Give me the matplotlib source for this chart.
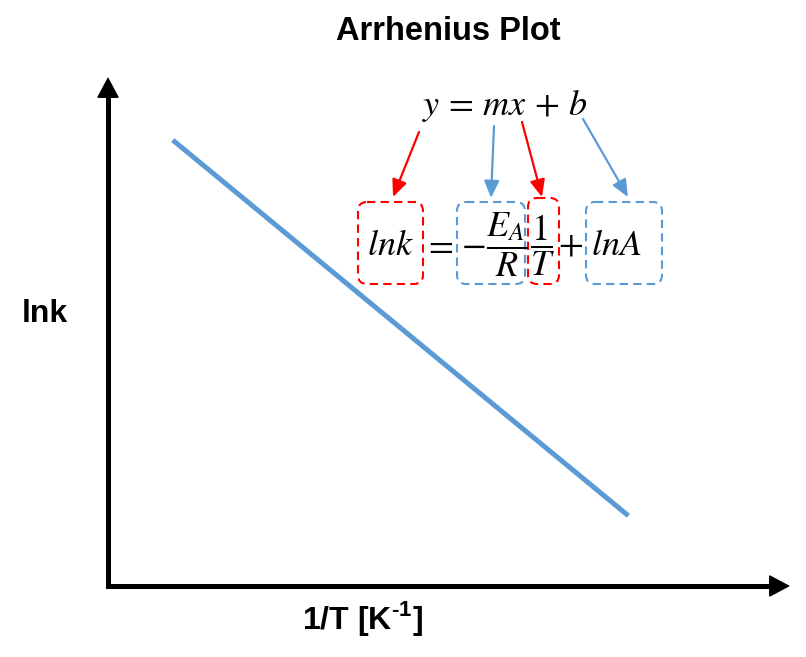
import numpy as np
import matplotlib
matplotlib.use("Agg")
from matplotlib import pyplot as plt
from matplotlib.patches import FancyBboxPatch

plt.rcParams["mathtext.fontset"] = "stix"
plt.rcParams["mathtext.rm"] = "Liberation Sans:bold"

# sketch line of ln k against 1/T (axes fraction units)
inv_temp = [0.095, 0.763]
ln_k = [0.876, 0.138]

title = "Arrhenius Plot"
x_label = r"1/T [K$^{\text{-1}}$]"
y_label = "lnk"

RED = "#FF0000"
BLUE = "#5B9BD5"

fig = plt.figure(figsize=(8.06, 6.57), dpi=100)

# main drawing area, origin at the corner of the two arrows
ax = fig.add_axes([108 / 806, 71 / 657, 682 / 806, 509 / 657])
ax.set_xlim(0, 1)
ax.set_ylim(0, 1)
ax.axis("off")
ax.plot(inv_temp, ln_k, color=BLUE, lw=3.6, solid_capstyle="butt")

# the two axis arrows: one L-shaped stroke plus two heads
ax.plot([0, 0, 0.985], [0.985, 0, 0], color="black", lw=3.6,
        solid_joinstyle="miter", solid_capstyle="butt", clip_on=False)
head = dict(arrowstyle="-|>,head_length=0.75,head_width=0.4", lw=1,
            color="black", shrinkA=0, shrinkB=0, mutation_scale=18)
ax.annotate("", xy=(1, 0), xytext=(0.95, 0), xycoords="axes fraction",
            arrowprops=head, annotation_clip=False)
ax.annotate("", xy=(0, 1), xytext=(0, 0.95), xycoords="axes fraction",
            arrowprops=head, annotation_clip=False)

# overlay in pixel units for the text and equation annotations
ov = fig.add_axes([0, 0, 1, 1], facecolor="none")
ov.set_xlim(0, 806)
ov.set_ylim(657, 0)
ov.axis("off")

font = dict(family="Liberation Sans", weight="bold", color="black")
ov.text(448, 32, title, fontsize=23.5, ha="center", va="center", **font)
ov.text(45, 314, y_label, fontsize=23, ha="center", va="center", **font)
ov.text(362, 619, x_label, fontsize=23, ha="center", va="center",
        math_fontfamily="custom", **font)

# y = mx + b
ov.text(505, 115, r"$y\,=\,mx\,+\,b$", fontsize=26, ha="center",
        va="baseline")

# ln k = -Ea/R * 1/T + ln A
eq_size = 26
ov.text(390, 255, r"$lnk$", fontsize=eq_size, ha="center", va="baseline")
ov.text(438, 255, r"$=$", fontsize=eq_size, ha="center", va="baseline")
ov.text(473, 255, r"$-$", fontsize=eq_size, ha="center", va="baseline")
ov.text(507, 245, r"$\dfrac{E_A}{R}$", fontsize=eq_size, ha="center",
        va="center")
ov.text(542, 245, r"$\dfrac{1}{T}$", fontsize=eq_size, ha="center",
        va="center")
ov.text(571, 255, r"$+$", fontsize=eq_size, ha="center", va="baseline")
ov.text(616, 255, r"$lnA$", fontsize=eq_size, ha="center", va="baseline")

boxes = [
    (358, 202, 65, 82, RED),
    (457, 202, 68, 82, BLUE),
    (528, 198, 31, 86, RED),
    (586, 202, 76, 82, BLUE),
]
for x0, y0, w, h, c in boxes:
    ov.add_patch(FancyBboxPatch((x0, y0), w, h,
                                boxstyle="round,pad=0,rounding_size=9",
                                fill=False, edgecolor=c, lw=1.5,
                                linestyle=(0, (4, 2.5))))

links = [
    ((419, 132), (393, 197), RED),
    ((494, 126), (491, 198), BLUE),
    ((522, 122), (542, 197), RED),
    ((583, 119), (628, 197), BLUE),
]
for start, end, c in links:
    ov.annotate("", xy=end, xytext=start,
                arrowprops=dict(arrowstyle="-|>,head_length=0.8,head_width=0.35",
                                lw=1.6, color=c, shrinkA=0, shrinkB=0,
                                mutation_scale=13))

fig.savefig("out.png", dpi=100)
